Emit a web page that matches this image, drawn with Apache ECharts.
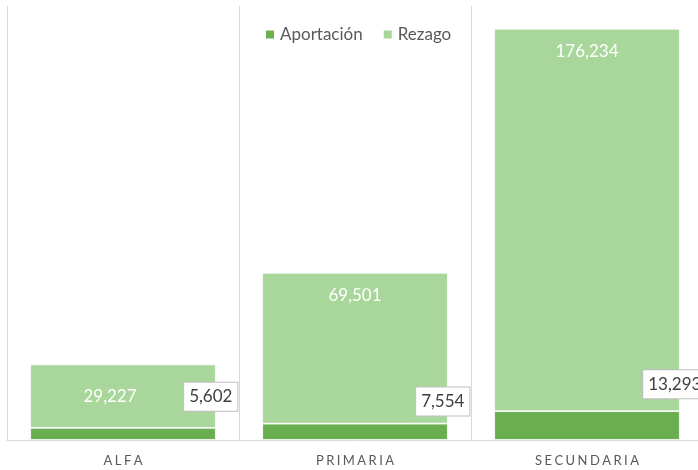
<!DOCTYPE html>
<html>
<head>
<meta charset="utf-8">
<script src="https://cdn.jsdelivr.net/npm/echarts@6/dist/echarts.min.js"></script>
<style>
  html, body { margin: 0; padding: 0; background: #ffffff; }
  #chart { width: 698px; height: 470px; }
</style>
</head>
<body>
<div id="chart"></div>
<script>
// Categories and values
var categories = ['ALFA', 'PRIMARIA', 'SECUNDARIA'];
var aportacion = [5602, 7554, 13293];
var rezago = [29227, 69501, 176234];

// Label placement tweaks (px)
var aportLabelDy = [-31, -22, -27];
var rezagoLabelDx = [-13, 0, 0];

var DARK = '#6aaf4f';
var LIGHT = '#a9d69a';
var FONT = 'Lato, "Open Sans", sans-serif';

function spaced(s) {
  return s.split('').join('\u2009\u200A');
}
function fmt(v) {
  return v.toLocaleString('en-US');
}

var chart = echarts.init(document.getElementById('chart'), null, { renderer: 'canvas' });

var option = {
  animation: false,
  textStyle: { fontFamily: FONT },
  legend: {
    left: 259,
    top: 21,
    icon: 'rect',
    itemWidth: 10,
    itemHeight: 10,
    itemGap: 19,
    textStyle: { color: '#595959', fontSize: 17, fontFamily: FONT },
    data: ['Aportación', 'Rezago']
  },
  // plot area runs slightly past the right edge of the canvas
  grid: {
    left: 7, top: 6, width: 696, bottom: 30,
    containLabel: false,
    outerBoundsMode: 'none'
  },
  xAxis: {
    type: 'category',
    data: categories,
    boundaryGap: true,
    axisLine: { show: true, lineStyle: { color: '#d9d9d9', width: 1 } },
    axisTick: { show: false },
    splitLine: { show: true, lineStyle: { color: '#d9d9d9', width: 1 } },
    axisLabel: {
      color: '#595959',
      fontSize: 13,
      margin: 14,
      fontFamily: FONT,
      formatter: function (v) { return spaced(v); }
    }
  },
  yAxis: {
    type: 'value',
    min: 0,
    max: 200000,
    show: false,
    splitLine: { show: false }
  },
  series: [
    {
      name: 'Aportación',
      type: 'bar',
      stack: 'total',
      barWidth: '80%',
      itemStyle: { color: DARK, borderColor: '#ffffff', borderWidth: 0.8 },
      label: {
        show: true,
        position: 'insideTopRight',
        color: '#404040',
        fontSize: 17,
        fontFamily: FONT,
        backgroundColor: '#ffffff',
        borderColor: '#bfbfbf',
        borderWidth: 1,
        padding: [6, 5, 5, 5],
        align: 'center',
        verticalAlign: 'middle',
        formatter: function (p) { return fmt(p.value); }
      },
      data: aportacion.map(function (v, i) {
        return {
          value: v,
          label: { distance: 0, offset: [-5, aportLabelDy[i]] }
        };
      })
    },
    {
      name: 'Rezago',
      type: 'bar',
      stack: 'total',
      barWidth: '80%',
      itemStyle: { color: LIGHT, borderColor: '#ffffff', borderWidth: 0.8 },
      label: {
        show: true,
        color: '#ffffff',
        fontSize: 17,
        fontFamily: FONT,
        formatter: function (p) { return fmt(p.value); }
      },
      data: rezago.map(function (v, i) {
        return {
          value: v,
          label: i === 0
            ? { position: 'inside', offset: [rezagoLabelDx[i], 0] }
            : { position: 'insideTop', distance: 14, offset: [rezagoLabelDx[i], 0] }
        };
      })
    }
  ]
};

chart.setOption(option);
</script>
</body>
</html>
